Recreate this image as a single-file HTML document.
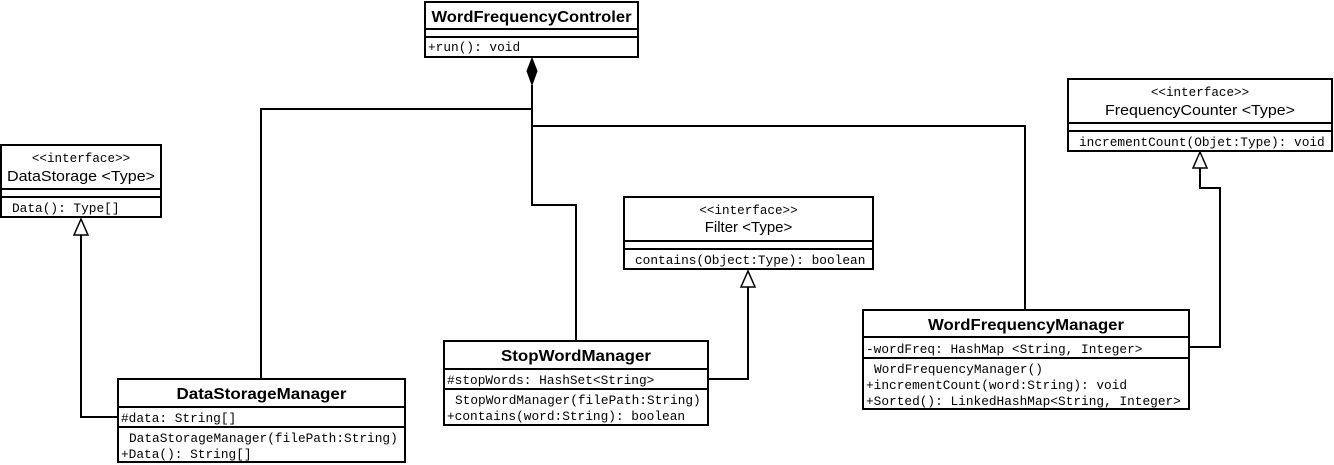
<!DOCTYPE html>
<html><head><meta charset="utf-8"><style>
html,body{margin:0;padding:0;background:#fff;width:1334px;height:465px;overflow:hidden}
svg{display:block}
.t{font-family:"Liberation Sans",sans-serif;font-weight:bold;font-size:16px}
.n{font-family:"Liberation Sans",sans-serif;font-size:15px}
.s{font-family:"Liberation Mono",monospace;font-size:12.6px}
.m{font-family:"Liberation Mono",monospace;font-size:12.8px}
</style></head><body>
<svg width="1334" height="465" viewBox="0 0 1334 465" xmlns="http://www.w3.org/2000/svg">
<g fill="none" stroke="#000" stroke-width="2">
<polyline points="532,85 532,109 261,109 261,379"/>
<polyline points="532,109 532,126 1025,126 1025,310"/>
<polyline points="532,126 532,205 576,205 576,341"/>
<polyline points="81,235 81,417 118,417"/>
<polyline points="748,287 748,379 708,379"/>
<polyline points="1200,168 1200,188 1220,188 1220,347 1189,347"/>
<rect x="425" y="2" width="213" height="55"/>
<line x1="425" y1="29" x2="638" y2="29"/><line x1="425" y1="37" x2="638" y2="37"/>
<rect x="1" y="145" width="160" height="72"/>
<line x1="1" y1="189" x2="161" y2="189"/><line x1="1" y1="197" x2="161" y2="197"/>
<rect x="118" y="379" width="287" height="83"/>
<line x1="118" y1="407" x2="405" y2="407"/><line x1="118" y1="427" x2="405" y2="427"/>
<rect x="624" y="197" width="249" height="72"/>
<line x1="624" y1="241" x2="873" y2="241"/><line x1="624" y1="249" x2="873" y2="249"/>
<rect x="444" y="341" width="264" height="84"/>
<line x1="444" y1="369" x2="708" y2="369"/><line x1="444" y1="389" x2="708" y2="389"/>
<rect x="1068" y="79" width="264" height="72"/>
<line x1="1068" y1="123" x2="1332" y2="123"/><line x1="1068" y1="131" x2="1332" y2="131"/>
<rect x="863" y="310" width="326" height="99"/>
<line x1="863" y1="337" x2="1189" y2="337"/><line x1="863" y1="358" x2="1189" y2="358"/>
</g>
<polygon points="532,58 537,71 532,85 527,71" fill="#000" stroke="#000" stroke-width="1"/>
<polygon points="81,219 74,235 88,235" fill="#fff" stroke="#000" stroke-width="1.5"/>
<polygon points="748,271 741,287 755,287" fill="#fff" stroke="#000" stroke-width="1.5"/>
<polygon points="1200,152 1193,168 1207,168" fill="#fff" stroke="#000" stroke-width="1.5"/>
<g fill="#000">
<text class="t" x="531.5" y="22" text-anchor="middle" textLength="200" lengthAdjust="spacingAndGlyphs">WordFrequencyControler</text>
<text class="m" x="428" y="51">+run(): void</text>

<text class="s" x="81" y="162" text-anchor="middle">&lt;&lt;interface&gt;&gt;</text>
<text class="n" x="81" y="181" text-anchor="middle" textLength="148" lengthAdjust="spacingAndGlyphs">DataStorage &lt;Type&gt;</text>
<text class="m" x="12" y="212">Data(): Type[]</text>

<text class="t" x="261.5" y="399" text-anchor="middle" textLength="170" lengthAdjust="spacingAndGlyphs">DataStorageManager</text>
<text class="m" x="121" y="422">#data: String[]</text>
<text class="m" x="129" y="442">DataStorageManager(filePath:String)</text>
<text class="m" x="121" y="458">+Data(): String[]</text>

<text class="s" x="748.5" y="214" text-anchor="middle">&lt;&lt;interface&gt;&gt;</text>
<text class="n" x="748.5" y="232" text-anchor="middle">Filter &lt;Type&gt;</text>
<text class="m" x="635" y="264">contains(Object:Type): boolean</text>

<text class="t" x="576" y="361" text-anchor="middle" textLength="150" lengthAdjust="spacingAndGlyphs">StopWordManager</text>
<text class="m" x="447" y="384">#stopWords: HashSet&lt;String&gt;</text>
<text class="m" x="455" y="404">StopWordManager(filePath:String)</text>
<text class="m" x="447" y="420">+contains(word:String): boolean</text>

<text class="s" x="1200" y="96" text-anchor="middle">&lt;&lt;interface&gt;&gt;</text>
<text class="n" x="1200" y="115" text-anchor="middle" textLength="190" lengthAdjust="spacingAndGlyphs">FrequencyCounter &lt;Type&gt;</text>
<text class="m" x="1079" y="146">incrementCount(Objet:Type): void</text>

<text class="t" x="1026" y="330" text-anchor="middle" textLength="196" lengthAdjust="spacingAndGlyphs">WordFrequencyManager</text>
<text class="m" x="866" y="353">-wordFreq: HashMap &lt;String, Integer&gt;</text>
<text class="m" x="874" y="373">WordFrequencyManager()</text>
<text class="m" x="866" y="389">+incrementCount(word:String): void</text>
<text class="m" x="866" y="405">+Sorted(): LinkedHashMap&lt;String, Integer&gt;</text>
</g>
</svg>
</body></html>
